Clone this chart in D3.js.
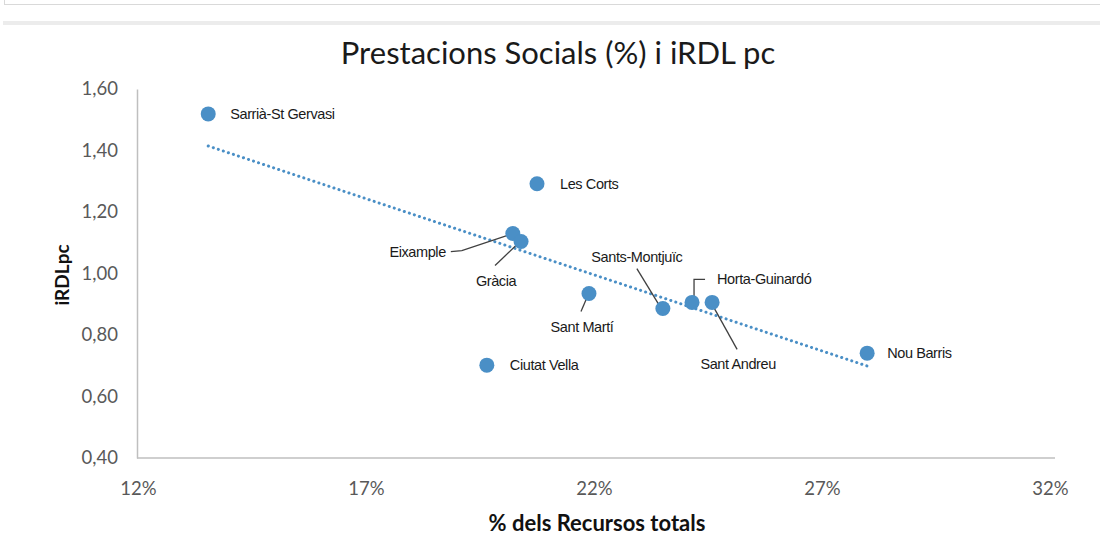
<!DOCTYPE html>
<html><head><meta charset="utf-8">
<script src="https://cdn.jsdelivr.net/npm/d3@7"></script>
<style>
html,body{margin:0;padding:0;background:#fff;}
svg{display:block;}
</style></head>
<body>
<svg id="chart" width="1100" height="536"></svg>
<script>
// ---- data ----
const districts = ["Sarrià-St Gervasi","Les Corts","Eixample","Gràcia","Sant Martí","Sants-Montjuïc","Horta-Guinardó","Sant Andreu","Nou Barris","Ciutat Vella"];
const recursosPct = [13.54, 20.75, 20.22, 20.40, 21.89, 23.51, 24.15, 24.59, 27.99, 19.65];
const irdlpc = [1.519, 1.292, 1.130, 1.104, 0.935, 0.886, 0.906, 0.906, 0.741, 0.702];
const xTicks = [12, 17, 22, 27, 32];
const yTicks = [0.40, 0.60, 0.80, 1.00, 1.20, 1.40, 1.60];

// ---- label layout (pixel offsets relative to the point) ----
const labelLayout = [
  {dx: 22, dy: 0, anchor: "start", leader: null},
  {dx: 23, dy: 0, anchor: "start", leader: null},
  {dx: -67, dy: 18, anchor: "end", leader: [[-62,18],[-51,17],[-3,1]]},
  {dx: -25, dy: 39, anchor: "middle", leader: [[-26,24],[-2,1]]},
  {dx: -7, dy: 33, anchor: "middle", leader: [[-8,18],[-2,4]]},
  {dx: -26, dy: -52, anchor: "middle", leader: [[-26,-40],[-4,-4]]},
  {dx: 25, dy: -23, anchor: "start", leader: [[13,-23],[2,-23],[2,-6]]},
  {dx: 26, dy: 62, anchor: "middle", leader: [[25,47],[0,2]]},
  {dx: 20, dy: 0, anchor: "start", leader: null},
  {dx: 23, dy: 0, anchor: "start", leader: null}
];

const svg = d3.select("#chart");

// top frame decorations
svg.append("line").attr("x1",4).attr("x2",1100).attr("y1",4.5).attr("y2",4.5).attr("stroke","#d9d9d9").attr("stroke-width",1);
svg.append("line").attr("x1",4.5).attr("x2",4.5).attr("y1",0).attr("y2",5).attr("stroke","#d9d9d9").attr("stroke-width",1);
svg.append("rect").attr("x",3).attr("y",21).attr("width",1097).attr("height",4).attr("fill","#ececec");

const x = d3.scaleLinear().domain([12, 32]).range([138, 1050]);
const y = d3.scaleLinear().domain([0.4, 1.6]).range([458, 89]);

const loc = d3.formatLocale({decimal: ",", thousands: ".", grouping: [3], currency: ["", "€"]});
const fy = loc.format(".2f");

const axisFont = "Lato, 'Open Sans', 'Liberation Sans', sans-serif";
const labelFont = "'Liberation Sans Narrow', 'Arial Narrow', 'Liberation Sans', sans-serif";

// axes
const gx = svg.append("g").attr("transform", `translate(0,${y(0.4)})`)
  .call(d3.axisBottom(x).tickValues(xTicks).tickSize(0).tickPadding(24).tickFormat(d => d + "%"));
const gy = svg.append("g").attr("transform", `translate(${x(12) - 1},0)`)
  .call(d3.axisLeft(y).tickValues(yTicks).tickSize(0).tickPadding(19).tickFormat(fy));
[gx, gy].forEach(g => {
  g.select(".domain").attr("stroke", "#bfbfbf").attr("stroke-width", 1.5);
  g.selectAll("text").attr("fill", "#595959").style("font-family", axisFont).style("font-size", "18.5px");
});
gx.select(".domain").attr("d", `M${x(12)-1},0H${x(32)+5}`);

// title
svg.append("text").attr("x", 558).attr("y", 64).attr("text-anchor", "middle")
  .style("font-family", axisFont).style("font-size", "31px").attr("fill", "#1a1a1a")
  .text("Prestacions Socials (%) i iRDL pc");

// axis titles
svg.append("text").attr("transform", "translate(69,275) rotate(-90)").attr("text-anchor", "middle")
  .style("font-family", axisFont).style("font-size", "19px").style("font-weight", "bold").attr("fill", "#111")
  .text("iRDLpc");
svg.append("text").attr("x", 597).attr("y", 531).attr("text-anchor", "middle")
  .style("font-family", axisFont).style("font-size", "22px").style("font-weight", "bold").attr("fill", "#111")
  .text("% dels Recursos totals");

// trendline (least squares)
const n = recursosPct.length;
const mx = d3.mean(recursosPct), my = d3.mean(irdlpc);
let sxy = 0, sxx = 0;
for (let i = 0; i < n; i++) { sxy += (recursosPct[i]-mx)*(irdlpc[i]-my); sxx += (recursosPct[i]-mx)**2; }
const slope = sxy / sxx, icpt = my - slope * mx;
const [xmin, xmax] = d3.extent(recursosPct);
svg.append("line")
  .attr("x1", x(xmin)).attr("y1", y(icpt + slope*xmin))
  .attr("x2", x(xmax)).attr("y2", y(icpt + slope*xmax))
  .attr("stroke", "#4a8fc6").attr("stroke-width", 3).attr("stroke-dasharray", "0.1 5.2").attr("stroke-linecap", "round");

// points
const data = districts.map((d, i) => ({name: d, vx: recursosPct[i], vy: irdlpc[i], lay: labelLayout[i]}));

// leaders
data.forEach(d => {
  if (!d.lay.leader) return;
  const px = x(d.vx), py = y(d.vy);
  svg.append("polyline").attr("points", d.lay.leader.map(p => [px + p[0], py + p[1]].join(",")).join(" "))
    .attr("fill", "none").attr("stroke", "#404040").attr("stroke-width", 1.3);
});

svg.append("g").selectAll("circle").data(data).join("circle")
  .attr("cx", d => x(d.vx)).attr("cy", d => y(d.vy)).attr("r", 7.5).attr("fill", "#4a8fc6");

svg.append("g").selectAll("text").data(data).join("text")
  .attr("x", d => x(d.vx) + d.lay.dx).attr("y", d => y(d.vy) + d.lay.dy)
  .attr("dy", "0.35em").attr("text-anchor", d => d.lay.anchor)
  .style("font-family", labelFont).style("font-size", "14.5px").style("letter-spacing", "-0.4px").attr("fill", "#1a1a1a")
  .text(d => d.name);
</script>
</body></html>
